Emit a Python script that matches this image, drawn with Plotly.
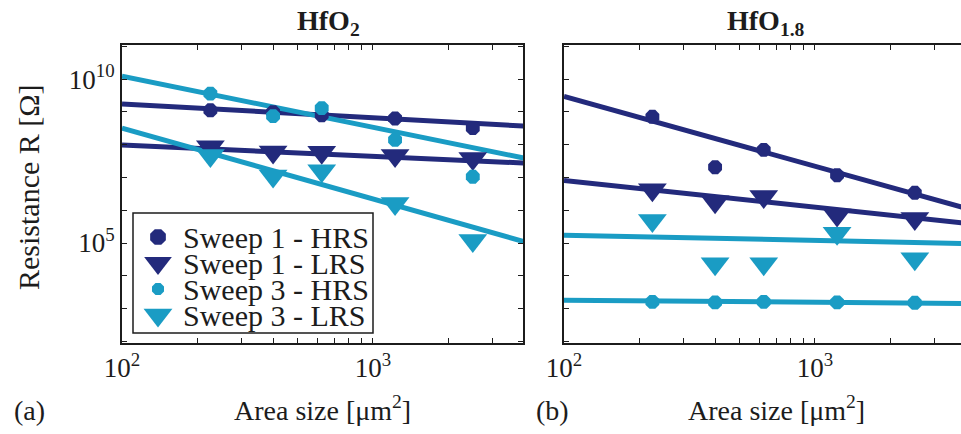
import plotly.graph_objects as go

# ---- data -------------------------------------------------------------
area = [225, 400, 625, 1225, 2500]          # device area [um^2]

# HfO2 panel (a)
a_s1_hrs = [1.12e9, 9.8e8, 7.9e8, 6.3e8, 3.2e8]
a_s1_lrs = [8.7e7, 6.0e7, 5.9e7, 4.7e7, 3.8e7]
a_s3_hrs = [3.6e9, 7.4e8, 1.3e9, 1.4e8, 1.05e7]
a_s3_lrs = [4.7e7, 1.1e7, 1.6e7, 1.6e6, 1.2e5]

# HfO1.8 panel (b)
b_s1_hrs = [7.1e8, 2.05e7, 6.9e7, 1.17e7, 3.4e6]
b_s1_lrs = [4.2e6, 1.8e6, 2.6e6, 7.2e5, 5.6e5]
b_s3_hrs = [1.6e3, 1.55e3, 1.6e3, 1.55e3, 1.5e3]
b_s3_lrs = [4.9e5, 2.35e4, 2.35e4, 2.0e5, 3.3e4]

# power-law fit lines, evaluated at the ends of the area range
fit_x = [100, 4000]
a_fit_s1_hrs = [1.74e9, 3.7e8]
a_fit_s1_lrs = [9.8e7, 2.75e7]
a_fit_s3_hrs = [1.23e10, 3.9e7]
a_fit_s3_lrs = [3.2e8, 1.1e5]
b_fit_s1_hrs = [2.95e9, 1.15e6]
b_fit_s1_lrs = [8.1e6, 4.0e5]
b_fit_s3_hrs = [1.8e3, 1.43e3]
b_fit_s3_lrs = [1.74e5, 9.6e4]

series_names = ["Sweep 1 - HRS", "Sweep 1 - LRS", "Sweep 3 - HRS", "Sweep 3 - LRS"]

x_major = [100, 1000]
x_major_text = ["10<sup>2</sup>", "10<sup>3</sup>"]
x_minor = [200, 300, 400, 500, 600, 700, 800, 900, 2000, 3000, 4000]
y_major = [1e5, 1e10]
y_major_text = ["10<sup>5</sup>", "10<sup>10</sup>"]
y_minor = [1e2, 1e3, 1e4, 1e6, 1e7, 1e8, 1e9, 1e11]

# ---- style ------------------------------------------------------------
NAVY = "#232a7c"
CYAN = "#1a9cc4"
INK = "#1c1c1c"
SERIF = "Liberation Serif"
W, H = 961, 434

styles = [
    dict(color=NAVY, symbol="octagon", size=15),
    dict(color=NAVY, symbol="triangle-down", size=25),
    dict(color=CYAN, symbol="octagon", size=15),
    dict(color=CYAN, symbol="triangle-down", size=25),
]

fig = go.Figure()

panels = [
    ("x", "y", [a_s1_hrs, a_s1_lrs, a_s3_hrs, a_s3_lrs],
     [a_fit_s1_hrs, a_fit_s1_lrs, a_fit_s3_hrs, a_fit_s3_lrs]),
    ("x2", "y2", [b_s1_hrs, b_s1_lrs, b_s3_hrs, b_s3_lrs],
     [b_fit_s1_hrs, b_fit_s1_lrs, b_fit_s3_hrs, b_fit_s3_lrs]),
]

for xa, ya, data, fits in panels:
    for st, fy in zip(styles, fits):
        fig.add_trace(go.Scatter(
            x=fit_x, y=fy, mode="lines", xaxis=xa, yaxis=ya,
            line=dict(color=st["color"], width=5), showlegend=False,
            hoverinfo="skip"))
    for st, ys, name in zip(styles, data, series_names):
        fig.add_trace(go.Scatter(
            x=area, y=ys, mode="markers", xaxis=xa, yaxis=ya, name=name,
            marker=dict(color=st["color"], symbol=st["symbol"], size=st["size"],
                        line=dict(width=0)),
            showlegend=False))

# ---- legend box keys (overlay axis in pixel units) --------------------
leg_rows = [237, 263, 289, 315]
leg_key_x = 158
leg_sizes = [17, 24, 13, 25]
for st, yy, sz in zip(styles, leg_rows, leg_sizes):
    fig.add_trace(go.Scatter(
        x=[leg_key_x], y=[yy], mode="markers", xaxis="x3", yaxis="y3",
        marker=dict(color=st["color"], symbol=st["symbol"], size=sz),
        showlegend=False, hoverinfo="skip"))


def px(x):
    return x / W


def py(y):
    return 1 - y / H


shapes = [dict(type="rect", xref="paper", yref="paper",
               x0=px(133), x1=px(373), y0=py(333), y1=py(213),
               line=dict(color=INK, width=1.5), fillcolor="white", layer="below")]

annotations = []
for name, yy in zip(series_names, leg_rows):
    annotations.append(dict(text=name, x=px(181), y=py(yy), xref="paper", yref="paper",
                            xanchor="left", yanchor="middle", showarrow=False,
                            font=dict(family=SERIF, size=30, color=INK)))

# panel titles, axis titles, panel letters
extra = [
    dict(text="<b>HfO<sub>2</sub></b>", x=px(328), y=py(22), size=28),
    dict(text="<b>HfO<sub>1.8</sub></b>", x=px(766), y=py(22), size=28),
    dict(text="Area size [μm<sup>2</sup>]", x=px(322), y=py(408), size=28),
    dict(text="Area size [μm<sup>2</sup>]", x=px(776), y=py(408), size=28),
    dict(text="Resistance R [Ω]", x=px(29), y=py(187), textangle=-90, size=30),
    dict(text="(a)", x=px(29), y=py(410), size=28),
    dict(text="(b)", x=px(552), y=py(410), size=28),
]
for a in extra:
    sz = a.pop("size")
    a.update(xref="paper", yref="paper", showarrow=False, xanchor="center",
             yanchor="middle", font=dict(family=SERIF, size=sz, color=INK))
annotations += extra

tick_style = dict(ticks="inside", ticklen=5, tickwidth=1.3, tickcolor=INK)
common_x = dict(type="log", tickmode="array", tickvals=x_major, ticktext=x_major_text,
                minor=dict(tickmode="array", tickvals=x_minor, **tick_style),
                showline=True, linewidth=2, linecolor=INK, mirror="ticks",
                showgrid=False, zeroline=False, automargin=False,
                tickfont=dict(family=SERIF, size=27, color=INK), **tick_style)
common_y = dict(type="log", tickmode="array", tickvals=y_major, ticktext=y_major_text,
                minor=dict(tickmode="array", tickvals=y_minor, **tick_style),
                showline=True, linewidth=2, linecolor=INK, showgrid=False,
                zeroline=False, automargin=False, range=[1.95, 11.04],
                tickfont=dict(family=SERIF, size=27, color=INK), **tick_style)

fig.update_layout(
    width=W, height=H, margin=dict(l=0, r=0, t=0, b=0, autoexpand=False),
    paper_bgcolor="white", plot_bgcolor="rgba(0,0,0,0)", showlegend=False,
    xaxis=dict(common_x, domain=[px(122), px(523)], range=[2, 3.598], anchor="y"),
    yaxis=dict(common_y, domain=[py(343), py(45)], anchor="x", mirror="ticks"),
    xaxis2=dict(common_x, domain=[px(564), 1.0], range=[2, 3.582], anchor="y2"),
    yaxis2=dict(common_y, domain=[py(343), py(45)], anchor="x2", mirror=False,
                showticklabels=False),
    xaxis3=dict(domain=[0, 1], range=[0, W], visible=False, anchor="y3",
                fixedrange=True, automargin=False),
    yaxis3=dict(domain=[0, 1], range=[H, 0], visible=False, anchor="x3",
                fixedrange=True, automargin=False),
    shapes=shapes, annotations=annotations,
)

fig.write_html("out.html")
